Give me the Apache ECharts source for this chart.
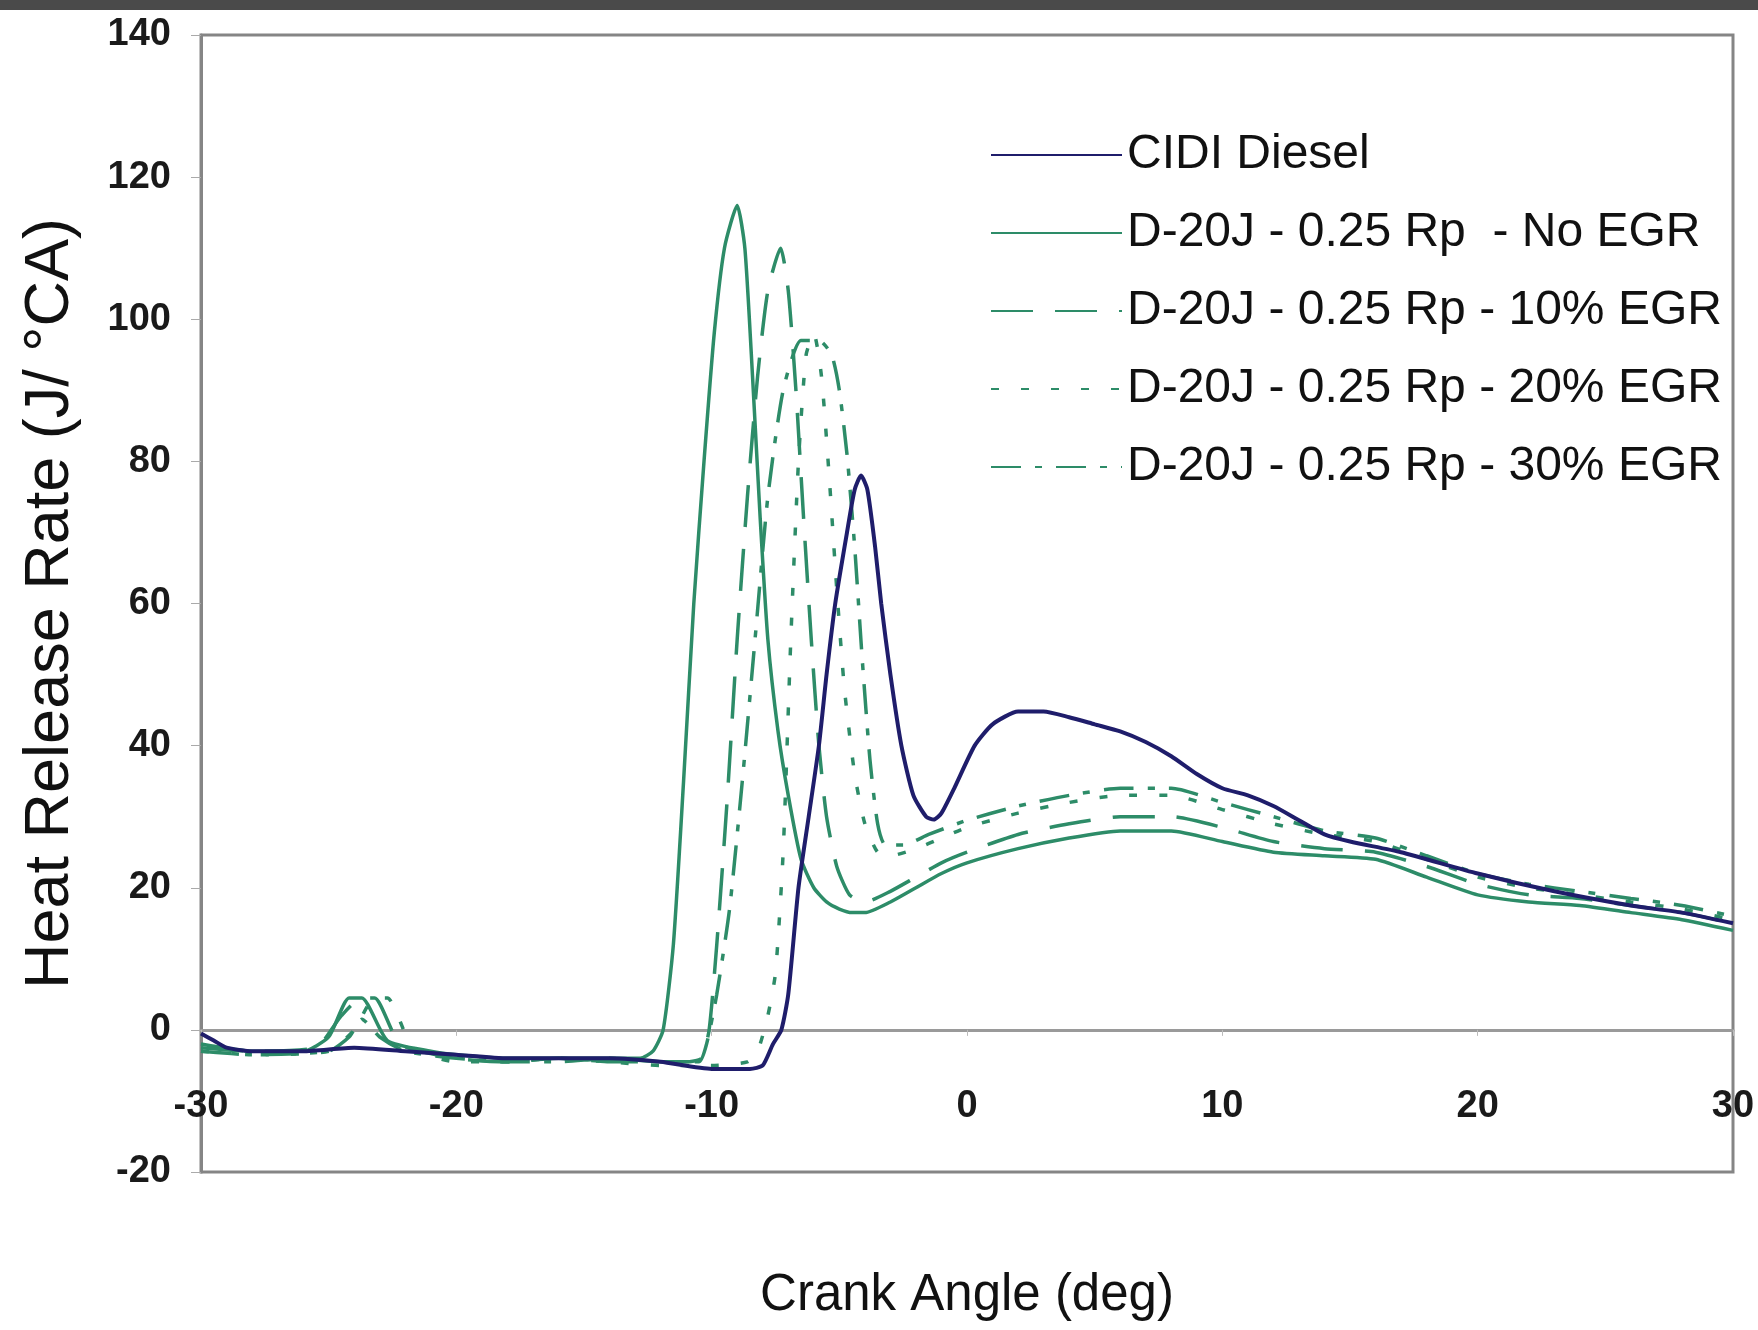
<!DOCTYPE html>
<html>
<head>
<meta charset="utf-8">
<script src="https://cdn.jsdelivr.net/npm/echarts@6/dist/echarts.min.js"></script>
<style>
  html, body { margin: 0; padding: 0; background: #fff; }
  #main { width: 1758px; height: 1330px; }
</style>
</head>
<body>
<div id="main"></div>
<script>
// 数据: [曲轴转角 deg, 放热率 J/°CA]
var seriesNames = ['CIDI Diesel', 'D-20J - 0.25 Rp  - No EGR', 'D-20J - 0.25 Rp - 10% EGR',
    'D-20J - 0.25 Rp - 20% EGR', 'D-20J - 0.25 Rp - 30% EGR'];

var cidiDiesel = [[-30, -0.5], [-29.5, -1.5], [-29, -2.5], [-28, -3], [-26, -3], [-24, -2.5], [-22, -3],
    [-20, -3.5], [-18, -4], [-16, -4], [-14, -4], [-12, -4.5], [-10, -5.5], [-8.5, -5.5], [-8, -5],
    [-7.6, -2], [-7.27, 0], [-7, 5], [-6.6, 20], [-6.2, 30], [-5.8, 40], [-5.5, 50], [-5.16, 60],
    [-4.7, 70], [-4.4, 76], [-4.15, 78], [-3.9, 76], [-3.6, 68], [-3.36, 60], [-3, 50], [-2.57, 40],
    [-2.1, 33], [-1.6, 30], [-1.3, 29.6], [-1, 30.5], [-0.5, 34], [0.3, 40], [1, 43], [2, 44.8],
    [3, 44.8], [4, 44], [5, 43], [6, 42], [7, 40.5], [8, 38.5], [9, 36], [10, 34], [11, 33],
    [12, 31.5], [13, 29.5], [14, 27.5], [15, 26.5], [17, 25], [20, 22], [23, 19.5], [26, 17.5],
    [28, 16.5], [30, 15]];

var noEgr = [[-30, -2], [-28, -3], [-26, -3], [-25, -1], [-24.2, 4.5], [-23.7, 4.5], [-22.7, -1.5],
    [-21, -3], [-20, -3.5], [-18, -4], [-16, -4], [-14, -4], [-12.8, -4], [-12.3, -3], [-11.9, 0],
    [-11.5, 12], [-11.1, 35], [-10.7, 60], [-10.3, 80], [-9.9, 98], [-9.5, 110], [-9.0, 116],
    [-8.7, 110], [-8.4, 92], [-8.1, 72], [-7.8, 55], [-7.4, 42], [-7, 33], [-6.5, 24], [-6, 20],
    [-5.5, 18], [-5, 17], [-4.5, 16.5], [-4, 16.5], [-3, 18], [-2, 20], [-1, 22], [0, 23.5],
    [2, 25.5], [4, 27], [6, 28], [8, 28], [10, 26.5], [12, 25], [14, 24.5], [16, 24], [18, 21.5],
    [20, 19], [22, 18], [24, 17.5], [26, 16.5], [28, 15.5], [30, 14]];

var egr10 = [[-30, -2.5], [-28, -3], [-25.5, -2.5], [-24.5, 2], [-23.7, 4.5], [-23.2, 4.5],
    [-22.2, -2], [-20, -4], [-18, -4.5], [-16, -4], [-14, -4.5], [-12, -4.5], [-11, -4.5],
    [-10.4, -4], [-10.1, 0], [-9.8, 12], [-9.4, 32], [-9, 55], [-8.6, 75], [-8.2, 92], [-7.8, 104],
    [-7.3, 110], [-7, 104], [-6.7, 90], [-6.4, 72], [-6.1, 55], [-5.8, 40], [-5.5, 30], [-5.1, 23],
    [-4.6, 19], [-4, 18], [-3, 19.5], [-2, 21.5], [-1, 23.5], [0, 25], [2, 27.5], [4, 29], [6, 30],
    [8, 30], [10, 28.5], [12, 26.5], [14, 25.5], [16, 25], [18, 23], [20, 20.5], [22, 19],
    [24, 18.5], [26, 17.5], [28, 16.5], [30, 15]];

var egr20 = [[-30, -3], [-28, -3.5], [-25, -3], [-24, 0], [-23.2, 4.5], [-22.7, 4.5], [-21.7, -2.5],
    [-20, -4.5], [-18, -4.5], [-16, -4], [-14, -4.5], [-12, -5], [-10, -5], [-8.6, -4.5],
    [-8.2, -3], [-7.8, 2], [-7.5, 8], [-7.2, 25], [-6.9, 55], [-6.6, 80], [-6.3, 95], [-6.0, 98],
    [-5.7, 92], [-5.4, 78], [-5.1, 62], [-4.8, 48], [-4.4, 36], [-4, 29], [-3.5, 25], [-3, 24.5],
    [-2, 25.5], [-1, 27], [0, 28.5], [2, 30.5], [4, 32], [6, 33], [8, 33], [10, 31], [12, 29],
    [14, 27.5], [16, 26.5], [18, 24], [20, 21.5], [22, 20], [24, 19], [26, 18], [28, 17],
    [30, 15.5]];

var egr30 = [[-30, -3], [-28, -3.5], [-25, -3], [-24.2, -1], [-23.7, 1.5], [-23, -1], [-22, -3],
    [-20, -4], [-18, -4.5], [-16, -4.5], [-14, -4], [-12, -4.5], [-10.5, -4.5], [-10.2, -2],
    [-9.8, 5], [-9.3, 17], [-8.8, 35], [-8.3, 55], [-7.8, 75], [-7.2, 90], [-6.5, 97], [-5.8, 97],
    [-5.3, 95], [-5, 90], [-4.7, 81], [-4.4, 68], [-4.1, 52], [-3.8, 38], [-3.5, 29], [-3.2, 26],
    [-2.5, 26], [-1.5, 27.5], [0, 29.5], [2, 31.5], [4, 33], [6, 34], [8, 34], [10, 32], [12, 30],
    [14, 28], [16, 27], [18, 24.5], [20, 22], [22, 20.5], [24, 19.5], [26, 18.5], [28, 17.5],
    [30, 16]];

var xTicks = [-30, -20, -10, 0, 10, 20, 30];
var yTicks = [-20, 0, 20, 40, 60, 80, 100, 120, 140];

var sans = "'Liberation Sans', Arial, sans-serif";
var navy = '#1f1d6b';
var green = '#2d8c68';

var myChart = echarts.init(document.getElementById('main'));

function greenLine(name, data, type) {
    return {
        name: name,
        type: 'line',
        data: data,
        showSymbol: false,
        symbol: 'none',
        smooth: 0.2,
        lineStyle: { color: green, width: 3.5, type: type },
        itemStyle: { color: green }
    };
}

var option = {
    animation: false,
    backgroundColor: '#fff',
    graphic: [{
        type: 'rect',
        shape: { x: 0, y: 0, width: 1758, height: 10 },
        style: { fill: '#4a4a4a' }
    }],
    grid: {
        left: 201, right: 25, top: 35, bottom: 158,
        outerBoundsMode: 'none',
        containLabel: false,
        show: true, borderColor: '#858585', borderWidth: 3, backgroundColor: '#fff'
    },
    legend: {
        orient: 'vertical',
        left: 985, top: 123,
        itemWidth: 131, itemHeight: 14, itemGap: 24,
        data: seriesNames,
        itemStyle: { opacity: 0 },
        textStyle: { fontFamily: sans, fontSize: 48, color: '#111', lineHeight: 54 }
    },
    xAxis: {
        type: 'value',
        min: xTicks[0], max: xTicks[xTicks.length - 1], interval: 10,
        axisLine: { onZero: true, lineStyle: { color: '#9a9a9a', width: 3 } },
        axisTick: { show: true, length: 6, lineStyle: { color: '#bbb' } },
        axisLabel: { inside: true, margin: 46, fontFamily: sans, fontSize: 38, fontWeight: 'bold', color: '#1a1a1a' },
        splitLine: { show: false },
        name: 'Crank Angle (deg)',
        nameLocation: 'middle',
        nameGap: 98,
        nameTextStyle: { fontFamily: sans, fontSize: 51, color: '#111' }
    },
    yAxis: {
        type: 'value',
        min: yTicks[0], max: yTicks[yTicks.length - 1], interval: 20,
        axisLine: { show: true, onZero: false, lineStyle: { color: '#858585', width: 3 } },
        axisTick: { show: true, length: 10, lineStyle: { color: '#aaa' } },
        axisLabel: { margin: 30, fontFamily: sans, fontSize: 38, fontWeight: 'bold', color: '#1a1a1a' },
        splitLine: { show: false },
        name: 'Heat Release Rate (J/ °CA)',
        nameLocation: 'middle',
        nameGap: 119,
        nameTextStyle: { fontFamily: sans, fontSize: 63, color: '#111' }
    },
    series: [
        greenLine(seriesNames[1], noEgr, 'solid'),
        greenLine(seriesNames[2], egr10, [42, 22]),
        greenLine(seriesNames[3], egr20, [8, 22]),
        greenLine(seriesNames[4], egr30, [30, 14, 7, 14]),
        {
            name: seriesNames[0],
            type: 'line',
            data: cidiDiesel,
            showSymbol: false,
            symbol: 'none',
            smooth: 0.2,
            lineStyle: { color: navy, width: 4 },
            itemStyle: { color: navy }
        }
    ]
};

myChart.setOption(option);
</script>
</body>
</html>
